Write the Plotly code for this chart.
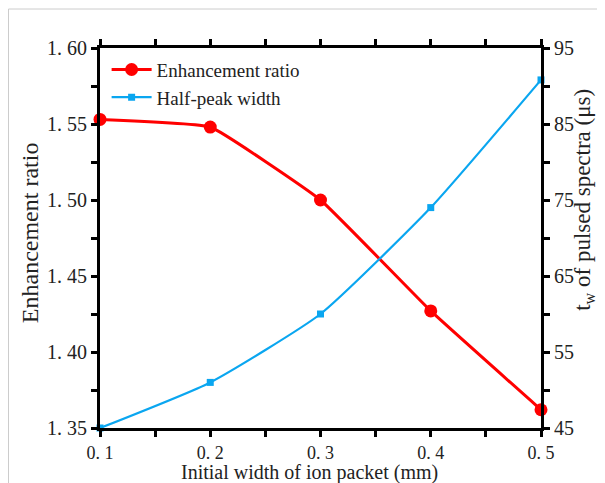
import plotly.graph_objects as go

width_mm = [0.1, 0.2, 0.3, 0.4, 0.5]
enhancement = [1.553, 1.548, 1.500, 1.427, 1.362]
half_peak = [45.0, 51.0, 60.0, 74.0, 90.8]
x_ticks = [0.1, 0.2, 0.3, 0.4, 0.5]
x_ticktext = ["0. 1", "0. 2", "0. 3", "0. 4", "0. 5"]
y_ticks = [1.35, 1.40, 1.45, 1.50, 1.55, 1.60]
y_ticktext = ["1. 35", "1. 40", "1. 45", "1. 50", "1. 55", "1. 60"]
y2_ticks = [45, 55, 65, 75, 85, 95]

FONT = "Liberation Serif"

fig = go.Figure()
fig.add_trace(go.Scatter(
    x=width_mm, y=enhancement, name="Enhancement ratio",
    mode="lines+markers", line=dict(color="#ff0000", width=3, shape="spline", smoothing=0.3),
    marker=dict(symbol="circle", size=13, color="#ff0000"), cliponaxis=False, yaxis="y"))
fig.add_trace(go.Scatter(
    x=width_mm, y=half_peak, name="Half-peak width",
    mode="lines+markers", line=dict(color="#0aa6f0", width=2.2, shape="spline", smoothing=0.5),
    marker=dict(symbol="square", size=7, color="#0aa6f0"), cliponaxis=False, yaxis="y2"))

axis_common = dict(showline=True, linecolor="black", linewidth=3, ticks="outside",
                   tickcolor="black", tickwidth=3, ticklen=6, showgrid=False, zeroline=False,
                   automargin=False)

# page body adds ~8px offset, so figure is sized/margined to place the plot area correctly
fig.update_layout(
    width=597, height=475,
    margin=dict(l=92, r=64, t=40, b=55, pad=0),
    paper_bgcolor="white", plot_bgcolor="white",
    font=dict(family=FONT, color="#222"),
    showlegend=True,
    legend=dict(x=0.015, y=0.993, xanchor="left", yanchor="top", bgcolor="rgba(0,0,0,0)",
                font=dict(family=FONT, size=19, color="#222"), itemwidth=40,
                tracegroupgap=0),
    xaxis=dict(range=[0.1, 0.5], tickvals=x_ticks, ticktext=x_ticktext, mirror="allticks",
               minor=dict(dtick=0.05, tick0=0.1, ticks="outside", ticklen=6, tickwidth=3, tickcolor="black"),
               tickfont=dict(family=FONT, size=18, color="#222"),
               **axis_common),
    yaxis=dict(range=[1.35, 1.60], tickvals=y_ticks, ticktext=y_ticktext,
               minor=dict(dtick=0.025, tick0=1.35, ticks="outside", ticklen=6, tickwidth=3, tickcolor="black"),
               tickfont=dict(family=FONT, size=20, color="#222"),
               **axis_common),
    yaxis2=dict(range=[45, 95], tickvals=y2_ticks, overlaying="y", side="right",
                minor=dict(dtick=5, tick0=45, ticks="outside", ticklen=6, tickwidth=3, tickcolor="black"),
                tickfont=dict(family=FONT, size=20, color="#222"),
                **axis_common),
    annotations=[
        dict(text="Initial width of ion packet (mm)", xref="paper", yref="paper",
             x=0.476, y=-0.118, xanchor="center", yanchor="middle", showarrow=False,
             font=dict(family=FONT, size=20, color="#222")),
        dict(text="Enhancement ratio", xref="paper", yref="paper",
             x=-0.159, y=0.515, xanchor="center", yanchor="middle", textangle=-90, showarrow=False,
             font=dict(family=FONT, size=24, color="#222")),
        dict(text="t<sub>w</sub> of pulsed spectra (μs)", xref="paper", yref="paper",
             x=1.097, y=0.6, xanchor="center", yanchor="middle", textangle=-90, showarrow=False,
             font=dict(family=FONT, size=23, color="#222")),
    ],
    shapes=[
        dict(type="line", xref="paper", yref="paper", x0=-0.2075, x1=-0.2075, y0=1.1026, y1=-0.15,
             line=dict(color="#cccccc", width=1)),
        dict(type="line", xref="paper", yref="paper", x0=-0.2075, x1=1.2, y0=1.1026, y1=1.1026,
             line=dict(color="#cccccc", width=1)),
    ],
)

fig.write_html("out.html")
